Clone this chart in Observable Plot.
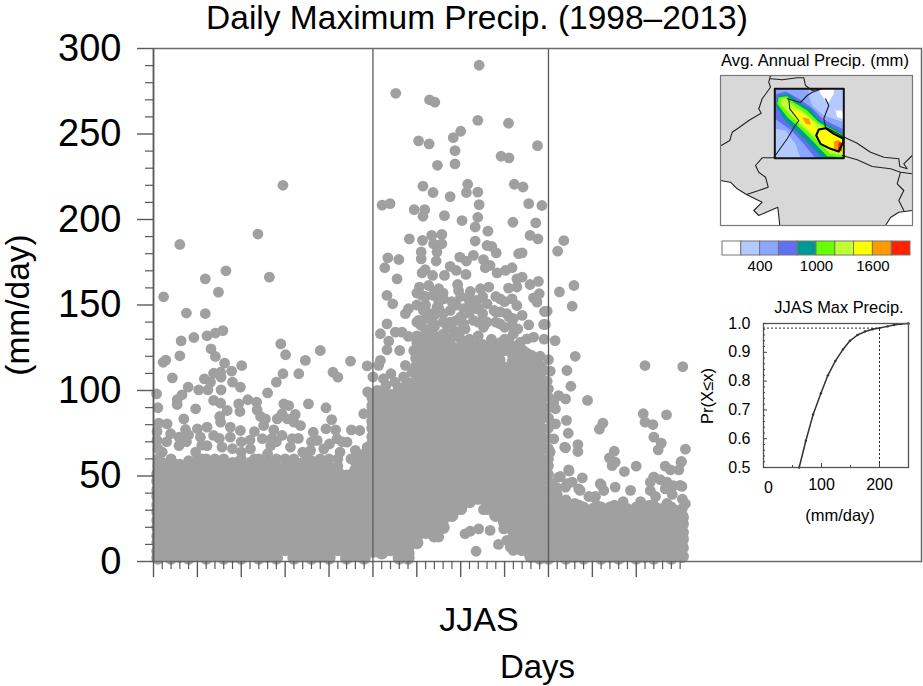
<!DOCTYPE html>
<html><head><meta charset="utf-8">
<script src="https://cdn.jsdelivr.net/npm/d3@7"></script>
<script src="https://cdn.jsdelivr.net/npm/@observablehq/plot@0.6"></script>
<style>
html,body{margin:0;background:#fff}
#c{position:relative;width:923px;height:686px;overflow:hidden;font-family:"Liberation Sans",Arial,sans-serif;color:#000}
.p{position:absolute}
.t{position:absolute;white-space:nowrap;transform:translateX(-50%);line-height:1}
</style></head><body><div id="c"></div>
<script>
// ---------- main scatter: isolated points [day, mm/day]
const juneTop=[[29.5,220],[23.8,191.5],[6,185.4],[16.5,170],[11.8,165.3],[26.4,166.3],[14.8,157.5],[2.3,154.8],[7.5,145.3],[11.8,145],[15.8,135],[14.1,133.6],[12.2,132],[9.2,131],[6.3,129],[29,127.3],[30.1,120.9],[13.1,124.4],[14.1,119.9],[6,120.3],[2.2,116.5],[2.8,117.8],[38,123.4],[34.6,117.6],[44.9,117.2],[48.7,114.4],[16.2,116],[20.1,114.6],[29.5,109.8],[33.1,109.8],[40.9,110.7],[42,107.8],[17.8,111.3],[15.3,110.7],[13.7,110.1],[4.3,107.4],[11.6,106.8],[28,104.9],[13,104.9],[15.4,107.8],[18,104.9],[19.8,102],[7.9,102],[10.3,100.4],[12.4,100.4],[15.4,100.4],[26,98.6],[48.8,99.2],[0.7,98],[6.5,97.5],[5.4,94.6],[13.7,94.2],[15.3,92.6],[19.4,92.2],[21.5,94.6],[23.5,93.2],[29.7,92.2],[30.8,91.2],[35.3,92.2],[39.3,89.9],[1,89.9],[5.4,91.8],[9.6,89.3],[16.8,88.3],[19.7,87.7],[23.6,88.7],[29.3,86.4],[32.3,86],[47.9,86.4],[15.1,84.8],[6.9,83.4],[24.4,84.8],[25.5,83.4],[28.2,83.4],[30.5,83.4],[40.6,83],[15.3,81.5],[1.2,80.9],[3.1,80.5],[25.1,79.5],[33.5,79.5],[32,81.5],[39.3,77.6],[12.2,78.6],[10,77.6],[7.3,77.2],[17.5,78.6],[19.8,76.6],[23,76],[27.4,77],[36.4,75.6],[41.5,77],[45.1,77],[47,76.6],[0.8,76],[29.3,73.7],[3.9,74.7],[5.8,72.7],[13.7,73.7],[17.5,72.7],[24.8,71.8],[37.3,70.8],[31.6,71.8],[0.8,70.8],[10.7,72.7],[41.8,71.8],[40.1,68.8],[44.1,69.8],[48.7,66.9],[26.7,67.8],[31.2,66.9],[12.2,67.8],[5.8,67.8],[2,64],[9.6,64],[15.6,66.9],[22.1,65.9],[35.8,65],[38.8,65.9],[46,65],[7.5,70],[20,70],[27,72],[34,64],[42.5,64],[18,66],[3,70],[8,74],[15,72],[22,71],[28,70],[33,72],[36,70],[43,70],[1,66],[11,68],[20,64],[26,63],
[3,53],[5,57],[7,51],[9,55],[11,60],[13,53],[15,57],[17,52],[19,58],[21,54],[23,60],[25,52],[27,57],[29,53],[31,58],[33,54],[35,60],[37,52],[39,57],[41,53],[43,48],[45,60],[47,54],[49,58]];
const julyTop=[[74.2,290.2],[55.2,273.8],[62.9,270],[64.1,268.6],[73.9,258],[80.9,256.3],[70,251.6],[68.3,247.9],[60.4,246],[62.8,244.2],[87.5,243.2],[68.7,240.3],[79.2,237],[81,236],[68.7,232.5],[64.7,231.7],[71.6,220.6],[82.2,220.6],[84.2,219],[61.4,219.5],[63.7,215.8],[71.3,215.8],[73.9,216],[67.6,213.4],[74.2,208.7],[85.5,209.3],[88.5,208.2],[53.9,209.3],[52.1,208.4],[59.4,205.8],[61.8,205.8],[61.4,201.9],[66.3,202.3],[73.9,201.3],[70.3,199.4],[81.9,198.4],[87.1,198],[73.3,195.6],[76.2,193.2],[85.8,190.7],[87.6,188.7],[58.3,188.7],[73.3,187.4],[61.3,187.8],[63.4,190.7],[65.7,191.3],[63.8,185.8],[65.7,185.8],[64.6,181],[76,184.8],[77.1,184.2],[78.1,180.5],[84,180.5],[83.2,180],[61,181],[61,177],[64.4,175.7],[72.9,179],[69.8,178],[71.3,175.7],[75.2,176.5],[75.6,171.8],[76.7,173.1],[53.4,177.6],[55.9,176.6],[52.7,171.8],[55.5,165.3],[67.6,172.6],[69,170.2],[71.2,167.9],[78.3,168.8],[80.2,170.2],[81.7,171.8],[61.2,168.8],[61.9,170.6],[63.6,167.3],[66.3,167.3],[82.8,165.3],[84,166.3],[87.7,163.8],[85.8,162],[60.6,160.5],[62.7,161.4],[65,159.5],[69.3,162],[69.5,158.5],[72.2,157.9],[74.5,159.5],[76.4,160.5],[80.9,159.9],[82.8,160.5],[53.2,155.6],[54.5,150.7],[87.9,156.6],[86.6,154.2],[87.4,151.7],[61.2,155.6],[63.8,155.6],[66.1,153.6],[71.8,153.6],[73.7,152.7],[76,150.7],[79,153.6],[81.7,153.6],[82.8,149.7],[58.1,147.8],[57.4,144.9],[89.1,146.2],[77.6,146.8],[84,143.9],[61.5,146.8],[64.6,148.8],[67.6,146.8],[70.7,147.8],[73.7,147.8],[80.5,144.9],[53.2,139],[51.7,133.2],[55.1,134.1],[56.6,134.1],[58.1,131.6],[85.5,138.4],[88.9,138.6],[60.4,141],[63.8,139],[67.6,140],[75.2,137],[79,139],[81.7,138],[70.7,139],[72.9,141],[53.6,128.9],[56.1,123.4],[53.2,123.8],[86.6,131.2],[83.6,128.3],[85.1,130.2],[82,133.2],[51.7,117.6],[51.3,114.7],[88.1,120.1],[57.4,114.7],[58.9,110.8],[54.1,109.8],[52.4,106.9],[59.3,123.4],[62,150],[66,145],[69,150],[72,150],[78,146],[60,150],[65,152],[51,100],[53,103],[56,101],[58,104],[60,115],[50,108],[55,105],[57,108],[89,130],[89,112],[90,118],
[61,120],[61,130],[61,138],[63,118],[63,127],[63,136],[63,145],[65,122],[65,131],[65,148],[67,120],[67,128],[67,137],[69,123],[69,132],[69,141],[71,119],[71,128],[71,136],[71,145],[73,121],[75,118],[75,127],[75,145],[77,121],[77,130],[79,118],[79,128],[79,146],[81,130],[81,143],[83,119],[83,136],[85,122],[85,114],[87,118],[87,108],[60,140],[62,142],[64,144],[66,140],[68,136],[70,143],[72,146],[74,140],[76,140],[78,140],[80,137],[82,142],[62,155],[60,157],[64,158],[66,157],[68,152],[70,155],[72,155],[78,155],[80,152],[75,155],[74,148],
[75.2,30.3],[73.5,6],[78.6,10],[71,16.2],[74.1,19.1],[72.2,17.8],[76.7,18.2],[79.8,19.1],[82,6.5],[83.2,8.4],[81.3,8.4],[80.5,12.3],[87.4,4.5],[85.8,6.5],[65,14.3]];
const septTop=[[93.5,187.7],[92.1,181.5],[95.8,161.4],[92.5,157.7],[95.4,149.3],[89.7,146.4],[89.3,138.6],[91.5,129.2],[96.1,120],[112,114.6],[120.6,114],[90.4,111.3],[94.2,111.7],[89.7,105.4],[95.1,102.5],[92.3,97],[93.9,95.1],[98.9,94.2],[91.2,93.2],[91.6,89.3],[111.6,86.4],[116.9,85.8],[94.1,82.5],[91.6,80.5],[102.4,80.9],[101.6,77.4],[112,81.5],[113.8,80.1],[94.5,75],[114,72.7],[115.7,69.2],[115,65.3],[91.2,71.7],[96.7,68.4],[93.9,66.5],[96.7,64.3],[90.4,64],[121.2,65.7],[105,64.5],[120.3,58.5],[103.9,60.6],[105.2,58.1],[104.5,56.1],[110,55.8],[116.6,55.8],[117.8,53.6],[119.7,53.6],[107.3,52.6],[94.6,53.6],[114,49.3],[115.5,47.8],[97.7,48.9],[113.2,46.4],[92.3,49.3],[95.4,46.4],[117,46.4],[118.5,44.4],[120.4,43.9],[102,44.8],[105.2,43.5],[108.7,41.6],[113.2,41.5],[116.6,42.5],[93.9,43.5],[96.9,42.5],[102.6,41.5],[90.8,45.4],[118.2,39.2],[114.4,38],[100.7,38],[99.2,38],[120.5,36.5],[93.7,66.9],[120.2,58.1],[94.7,52.9],[92.7,49.7],[101.8,45.5],[114,49.4],[117,43.5],[120,44.5],[121.2,33.8],[100.3,37.7],[97.2,41.6],[94.2,45.5],
[93,32],[95,30],[97,33],[99,29],[101,33],[103,30],[105,33],[107,35],[109,29],[111,35],[113,33],[115,31],[117,34],[119,30]];
// ---------- dense part of the cloud, daily values estimated per column [day, ...mm/day]
const juneMass=[
[1,2,6,11,15,20,24,29,33,38,42,47,51,56,60],
[2,4,9,13,18,22,27,31,36,40,45,49,54,58],
[4,2,6,10,15,19,24,28,33,37,42,46,50,55,60],
[6,3,8,12,17,21,26,30,35,39,44,48,53,57],
[8,2,5,10,14,19,23,28,32,37,41,46,50,55,59],
[10,4,8,13,17,22,26,31,35,40,44,49,53,58,60],
[12,2,6,11,15,20,24,29,33,38,42,47,51,56,60],
[14,4,9,13,18,22,27,31,36,40,45,49,54,58,60],
[16,2,6,11,15,20,24,29,33,38,42,47,51,56,60],
[18,3,8,13,17,22,26,31,35,40,44,49,53,58],
[20,2,6,10,15,19,24,28,33,37,42,46,51,55,60],
[22,4,9,13,18,22,27,31,36,40,45,49,54,58],
[24,2,6,11,15,20,24,29,33,38,42,47,51,56,60],
[26,3,8,13,17,22,26,31,35,40,44,49,53,58],
[28,2,6,10,15,19,24,28,33,37,42,46,51,55,60],
[30,7,11,16,20,25,29,34,38,43,47,52,56,60],
[32,2,6,11,15,20,24,29,33,38,42,47,51,56,60],
[34,4,8,13,17,22,26,31,35,40,44,49,53,58],
[36,2,6,10,15,19,24,28,33,37,42,46,51,55,59],
[38,3,8,13,17,22,26,31,35,40,44,49,53,58,60],
[40,2,6,11,15,20,24,29,33,38,42,47,51,56,60],
[42,7,11,16,20,25,29,34,38,43,47,52,56,60],
[44,2,6,11,15,20,24,29,33,38,42,47,50],
[46,4,8,13,17,22,26,31,35,40,44,49,53,58,60],
[48,2,6,10,15,19,24,28,33,37,42,46,51,55,60,63]];
const julyMass=[
[50,6,10,15,19,24,28,33,37,42,46,51,55,60,64,69,73,78,82,87,91,96],
[52,5,8,13,17,22,26,31,35,40,44,49,53,58,62,67,71,76,80,85,89,94,99],
[54,7,11,16,20,25,29,34,38,43,47,52,56,61,65,70,74,79,83,88,92,97],
[56,2,6,10,15,19,24,28,33,37,42,46,51,55,60,64,69,73,78,82,87,91,96,101],
[58,2,5,9,14,18,23,27,32,36,41,45,50,54,59,63,68,72,77,81,86,90,95,99,104],
[60,11,15,20,24,29,33,38,42,47,51,56,60,65,69,74,78,83,87,92,96,101,105,110,114,119,123,128,132],
[62,17,22,26,31,35,40,44,49,53,58,62,67,71,76,80,85,89,94,98,103,107,112,116,121,125,130,134],
[64,15,20,24,29,33,38,42,47,51,56,60,65,69,74,78,83,87,92,96,101,105,110,114,119,123,128,132,137],
[66,20,25,29,34,38,43,47,52,56,61,65,70,74,79,83,88,92,97,101,106,110,115,119,124,128,133],
[68,27,32,36,41,45,50,54,59,63,68,72,77,81,86,90,95,99,104,108,113,117,122,126,131],
[70,31,36,40,45,49,54,58,63,67,72,76,81,85,90,94,99,103,108,112,117,121,126,130,135],
[72,35,40,44,49,53,58,62,67,71,76,80,85,89,94,98,103,107,112,116,121,125,130],
[74,37,42,46,51,55,60,64,69,73,78,82,87,91,96,100,105,109,114,118,123,127,132],
[76,31,35,40,44,49,53,58,62,67,71,76,80,85,89,94,98,103,107,112,116,121,125],
[78,27,32,36,41,45,50,54,59,63,68,72,77,81,86,90,95,99,104,108,113,117,122,127],
[80,23,28,32,37,41,46,50,55,59,64,68,73,77,82,86,91,95,100,104,109,113,124,130],
[82,13,18,22,27,31,36,40,45,49,54,58,63,67,72,76,81,85,90,94,99,103,108,112,117,121,126],
[84,7,11,16,20,25,29,34,38,43,47,52,56,61,65,70,74,79,83,88,92,97,101,106,110,115,119,123],
[86,3,8,12,17,21,26,30,35,39,44,48,53,57,62,66,71,75,80,84,89,93,98,102,107,111,116,120],
[88,2,6,11,15,20,24,29,33,38,42,47,51,56,60,65,69,74,78,83,87,92,96,101,105,110,114]];
const septMass=[
[90,2,6,11,15,20,24,29,33,38,42,47,51,56,60,66,72,78,84,90,96,101],
[92,4,8,13,17,22,26,31,35,39,43],
[94,2,6,10,15,19,24,28,33,36],
[96,3,8,13,17,22,26,31,34],
[98,2,6,11,15,20,24,28,32],
[100,4,8,13,17,22,26,31],
[102,2,6,10,15,19,24,28,32],
[104,3,8,13,17,22,27,32],
[106,2,6,11,15,20,24,29],
[108,4,8,13,17,22,26,31],
[110,2,6,10,15,19,24,28,32],
[112,3,8,13,17,22,26,31],
[114,2,6,11,15,20,24,29,33],
[116,4,8,13,17,22,26,31],
[118,2,6,10,15,19,24,28,32],
[120.5,3,8,13,17,22,26,31]];
const majorDays=[0,10,20,30,40,50,60,70,80,90,100,110];
const minorDays=[2,4,6,8,12,14,16,18,22,24,26,28,32,34,36,38,42,44,46,48,52,54,56,58,62,64,66,68,72,74,76,78,82,84,86,88,92,94,96,98,102,104,106,108,112,114,116,118,120];
const monthLines=[50,90];
const yMajor=[0,50,100,150,200,250,300];
const yMinor=[10,20,30,40,60,70,80,90,110,120,130,140,160,170,180,190,210,220,230,240,260,270,280,290];
// ---------- colour bar
const barEdges=[0,200,400,600,800,1000,1200,1400,1600,1800,2000];
const barColors=["#ffffff","#b3c9ff","#8aa6ff","#6070f0","#009a94","#66ff00","#c0ff33","#ffff00","#ff9900","#ff2200"];
const barTicks=[400,1000,1600];
// ---------- CDF inset
const cdfX=[61.5,73,85.6,99,111,124,137,149,162,175,188,200,214,225,237,250];
const cdfY=[0.5,0.593,0.684,0.758,0.82,0.87,0.91,0.94,0.96,0.972,0.98,0.984,0.99,0.995,0.998,1];
const cdfYMajor=[0.5,0.6,0.7,0.8,0.9,1];
const cdfYMinor=[0.52,0.54,0.56,0.58,0.62,0.64,0.66,0.68,0.72,0.74,0.76,0.78,0.82,0.84,0.86,0.88,0.92,0.94,0.96,0.98];
const cdfMark={x:200,p:0.984};
// ---------- map outlines [lon, lat]
const coastWest=[[68.5,25.8],[69.5,25.63],[70.17,24.97],[71.1,24.4],[72.67,23.63],[71.83,22.8],[72.33,22.3],[74.23,23.13],[74.43,21.3],[68.5,21.3]];
const coastEast=[[85,21.3],[85.5,22.1],[86.33,22.63],[87.67,22.8],[87.7,21.3]];
const borders=[
[[73.5,36.3],[73.33,35.63],[73.5,35.13],[72.67,33.97],[72.33,32.97],[72.57,32.53],[71.33,31.8],[70.33,31.07],[69.67,30.63],[69.43,29.8],[68.57,29.3]],
[[73.5,35.97],[74.67,35.87],[76.17,36.07],[76.83,36.07],[77,35.3],[77.67,34.8],[78.67,34.97]],
[[75.33,33.97],[75.43,32.97],[76.33,31.8],[75.83,31.07],[75.17,29.97],[74.33,28.8],[73.83,28.07],[72.67,28.07],[72,27.3],[72.33,26.63],[73,26.13],[73.27,25.13],[72.33,24.8],[71.1,24.4]],
[[68.5,25.8],[69.5,25.63],[70.17,24.97],[71.1,24.4],[72.67,23.63],[71.83,22.8],[72.33,22.3],[74.23,23.13],[74.43,21.3]],
[[85,21.3],[85.5,22.1],[86.33,22.63],[87.67,22.8]],
[[80.9,30.13],[82.17,29.53],[83.5,28.63],[84.83,28.13],[86.33,27.97],[86.43,27.2],[87.17,26.97],[86.83,27.47],[87.67,28.3]],
[[80.67,28.3],[82.17,27.87],[83.67,27.2],[85.5,26.97],[86.5,26.63],[87.67,26.47]],
[[86.5,26.63],[86.17,25.47],[86.83,24.8],[86.33,23.8],[86.83,22.8]],
[[79,33.97],[79.33,33.3],[78.83,32],[79,31.13],[79.5,30.87],[80.9,30.13]],
[[75.17,33.97],[76.5,33.6],[77.17,34.3],[77.67,34.63],[78.67,34.97]]];
const regionBox=[[73.93,34.97],[80.83,34.97],[80.83,28.03],[73.93,28.03],[73.93,34.97]];
const uttarakhand=[[78.07,30.3],[78.33,30.9],[79,31.03],[79.83,30.47],[80.77,30],[80.77,29.63],[80.33,28.7],[79.5,28.97],[78.5,29.47],[78.07,30.3]];
const precipBands=[
["#b3c9ff",[[73.93,34.97],[80.83,34.97],[80.83,28.03],[73.93,28.03]]],
["#8aa6ff",[[73.93,34.97],[77.33,34.97],[77.33,34.3],[77.67,33.3],[78.83,32.3],[80.83,31.63],[80.83,28.03],[76.5,28.03],[76,29.47],[75,30.8],[73.93,30.97]]],
["#6070f0",[[73.93,34.4],[75,34.7],[76.3,34],[77.6,33.1],[78.7,32],[79.8,31.4],[80.83,30.9],[80.83,28.03],[78,28.03],[76.7,29.6],[75.6,30.8],[74.6,31.5],[73.93,32]]],
["#009a94",[[74.33,34.3],[75.33,34.47],[76.33,33.63],[77.5,32.97],[78.5,31.8],[80.83,30.47],[80.83,28.03],[78.67,28.03],[77.33,29.47],[76,30.8],[74.83,31.97],[74,33.3]]],
["#66ff00",[[74.33,34.13],[75.17,34.23],[75.83,33.63],[77.17,32.8],[78.33,31.63],[80.83,30.3],[80.83,28.13],[79.17,28.23],[77.67,29.8],[76.33,31.13],[75.17,32.13],[74.17,33.47]]],
["#c0ff33",[[74.5,33.97],[75.1,34.03],[75.57,33.47],[76.83,32.63],[78.17,31.47],[80.83,29.97],[80.83,28.3],[79.5,28.47],[77.83,30.13],[76.5,31.37],[75.33,32.47],[74.5,33.47]]],
["#ffff00",[[75.5,32.97],[76.83,32.47],[78,31.3],[78.33,30.8],[77.83,30.47],[76.67,31.47]]],
["#ffff00",[[78.33,30.97],[79.17,30.97],[80.33,30.13],[80.77,29.47],[80.67,28.63],[79.33,28.8],[78.5,29.57],[78,30.3]]],
["#ff9900",[[76.67,32.13],[77.33,31.97],[77.57,31.37],[77,31.47]]],
["#ff9900",[[79.83,29.7],[80.33,29.87],[80.57,29.3],[80.33,28.8],[79.83,28.97]]],
["#ff2200",[[80.33,29.7],[80.67,29.57],[80.6,28.7],[80.23,28.8]]],
["#ffffff",[[78.33,34.9],[79.83,34.9],[79.83,34.47],[79.33,33.63],[79,33.8],[78.5,34.47]]],
["#ffffff",[[80,32.8],[80.67,32.8],[80.77,31.97],[80.17,32.13]]]];

const toRows=(a,cut)=>a.flatMap(([d,...v])=>v.map(m=>({day:d,mm:m,core:m<cut})));
const massRows=[...toRows(juneMass,56),...toRows(julyMass,126),...toRows(septMass,30)];
const massPts=massRows.filter(d=>d.core);
const loosePts=[...massRows.filter(d=>!d.core),...[...juneTop,...julyTop,...septTop].map(([day,mm])=>({day,mm}))];
const ink="#5a5a5a", root=document.getElementById("c"), noBg={background:"transparent",overflow:"visible",fontFamily:"Liberation Sans, Arial, sans-serif"};
function place(el,left,top){el.classList.add("p");el.style.left=left+"px";el.style.top=top+"px";root.appendChild(el);}
function text(s,cx,top,size){const e=document.createElement("div");e.className="t";e.textContent=s;e.style.left=cx+"px";e.style.top=top+"px";e.style.fontSize=size+"px";root.appendChild(e);return e;}

// main chart
place(Plot.plot({width:923,height:686,marginLeft:153,marginRight:2,marginTop:48,marginBottom:125,style:noBg,
  x:{domain:[0,175],axis:null},y:{domain:[0,300],axis:null},
  marks:[
    Plot.dot(massPts,{x:"day",y:"mm",r:6.6,fill:"#a0a0a0"}),
    Plot.dot(loosePts,{x:"day",y:"mm",r:5.4,fill:"#a0a0a0"}),
    Plot.ruleX(monthLines,{stroke:ink,strokeWidth:1.3}),
    Plot.frame({stroke:"#6a6a6a",strokeWidth:1.5}),
    Plot.ruleX([0],{stroke:ink,strokeWidth:1.5}),
    Plot.axisX({ticks:minorDays,tickSize:8,tickFormat:()=>"",label:null,stroke:ink,strokeWidth:1.2,anchor:"bottom"}),
    Plot.axisX({ticks:majorDays,tickSize:16,tickFormat:()=>"",label:"Days",labelAnchor:"center",labelArrow:"none",labelOffset:116,fontSize:33,stroke:ink,strokeWidth:1.4,anchor:"bottom"}),
    Plot.axisY({ticks:yMinor,tickSize:8,tickFormat:()=>"",label:null,stroke:ink,strokeWidth:1.2}),
    Plot.axisY({ticks:yMajor,tickSize:16,tickPadding:16,fontSize:38,label:null,stroke:ink,strokeWidth:1.4,tickFormat:d=>String(d)})
  ]}),0,0);

// html text labels
text("Daily Maximum Precip. (1998–2013)",477,1,33.5);
text("JJAS",479,602,34);
{const e=text("(mm/day)",18,305,33.5);e.style.transform="translate(-50%,-50%) rotate(-90deg)";}
text("Avg. Annual Precip. (mm)",815,53,16.6);
text("JJAS Max Precip.",839,299,16.4);
text("(mm/day)",840,507,16.5);
{const e=text("Pr(X≤x)",707,396,16.5);e.style.transform="translate(-50%,-50%) rotate(-90deg)";}

// map inset
const ln=(a,o)=>Plot.line(a,{x:d=>d[0],y:d=>d[1],...o});
place(Plot.plot({width:192,height:150,margin:0,style:noBg,
  x:{domain:[68.5,87.7],axis:null},y:{domain:[21.3,36.3],axis:null},
  marks:[
    Plot.frame({fill:"#d8d8d8"}),
    ln(coastWest,{fill:"white",stroke:"none"}),
    ln(coastEast,{fill:"white",stroke:"none"}),
    ...precipBands.map(([c,a])=>ln(a,{fill:c,stroke:"none"})),
    ...borders.map(a=>ln(a,{stroke:"#222",strokeWidth:1.1})),
    ln(uttarakhand,{stroke:"#000",strokeWidth:2}),
    ln(regionBox,{stroke:"#111",strokeWidth:2}),
    Plot.frame({stroke:"#777",strokeWidth:1.2})
  ]}),720,75);

// colour bar
place(Plot.plot({width:188,height:36,marginLeft:0,marginRight:0,marginTop:0,marginBottom:22,style:noBg,
  x:{domain:[0,2000],axis:null},y:{domain:[0,1],axis:null},color:{type:"identity"},
  marks:[
    Plot.rect(barColors,{x1:(d,i)=>barEdges[i],x2:(d,i)=>barEdges[i+1],y1:()=>0,y2:()=>1,fill:d=>d,stroke:"#777",strokeWidth:1}),
    Plot.axisX({ticks:barTicks,tickSize:0,tickPadding:5,fontSize:15,label:null,anchor:"bottom",tickFormat:d=>String(d)})
  ]}),722,241);

// CDF inset
const cdfRows=cdfX.map((x,i)=>({x,y:cdfY[i]}));
place(Plot.plot({width:207,height:204,marginLeft:60,marginRight:2,marginTop:3,marginBottom:57,style:noBg,
  x:{domain:[0,250],axis:null},y:{domain:[0.5,1],axis:null},
  marks:[
    Plot.lineY(cdfRows,{x:"x",y:"y",stroke:"#333",strokeWidth:1.5}),
    Plot.dot(cdfRows,{x:"x",y:"y",r:1.2,fill:"#333"}),
    Plot.ruleX([cdfMark],{x:"x",y1:0.5,y2:"p",stroke:"#222",strokeDasharray:"2,2",strokeWidth:1}),
    Plot.ruleY([cdfMark],{y:"p",x1:0,x2:"x",stroke:"#222",strokeDasharray:"2,2",strokeWidth:1}),
    Plot.frame({stroke:"#555",strokeWidth:1.3}),
    Plot.axisY({ticks:cdfYMinor,tickSize:-2,tickFormat:()=>"",label:null,stroke:"#444"}),
    Plot.axisY({ticks:cdfYMajor,tickSize:-4,tickPadding:17,fontSize:16,label:null,stroke:"#444",tickFormat:d3.format(".1f")}),
    Plot.axisX({ticks:[50,150],tickSize:-2,tickFormat:()=>"",label:null,stroke:"#444",anchor:"bottom"}),
    Plot.axisX({ticks:[100,200],tickSize:-4,tickPadding:15,fontSize:16,label:null,stroke:"#444",anchor:"bottom",tickFormat:d=>String(d)}),
    Plot.text(["0"],{x:()=>0,y:()=>0.5,dx:5,dy:20,fontSize:16})
  ]}),703,320);
</script></body></html>
